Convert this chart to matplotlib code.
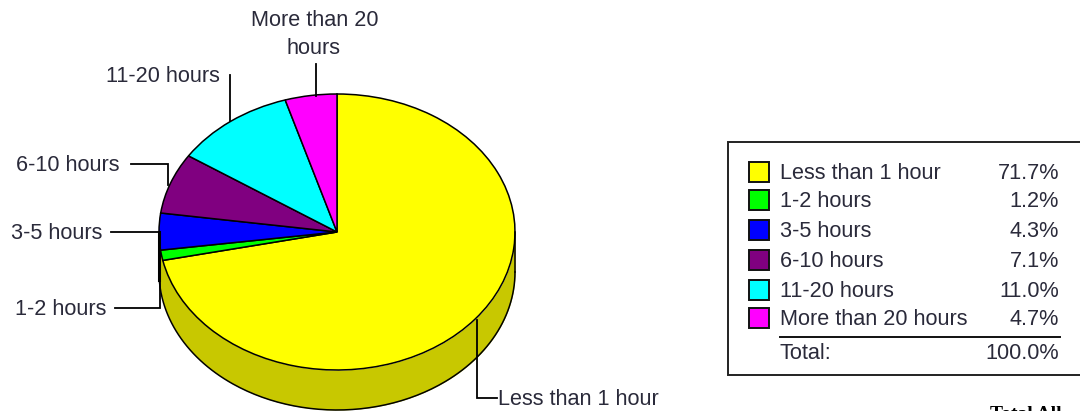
import numpy as np
import matplotlib
matplotlib.use("Agg")
import matplotlib.pyplot as plt
from matplotlib.patches import Rectangle

categories = ["Less than 1 hour", "1-2 hours", "3-5 hours", "6-10 hours", "11-20 hours", "More than 20 hours"]
percents = [71.7, 1.2, 4.3, 7.1, 11.0, 4.7]
percent_labels = ["71.7%", "1.2%", "4.3%", "7.1%", "11.0%", "4.7%"]
colors = ["#FFFF00", "#00FF00", "#0000FF", "#800080", "#00FFFF", "#FF00FF"]
total_label = "100.0%"

W, H = 1080, 411
CX, CY, RX, RY, DEPTH = 337, 232, 178, 138, 40

plt.rcParams["font.family"] = ["Liberation Sans", "DejaVu Sans"]
FS = 15.6
TEXT = "#2a2a3a"

fig = plt.figure(figsize=(W / 100, H / 100), dpi=100)

# overlay in pixel coordinates for leaders, labels and the legend box
ax = fig.add_axes([0, 0, 1, 1], zorder=2)
ax.set_xlim(0, W)
ax.set_ylim(H, 0)
ax.axis("off")
ax.patch.set_alpha(0)

# pie drawn in an axes stretched to the ellipse
ax_pie = fig.add_axes([(CX - RX) / W, 1 - (CY + RY) / H, 2 * RX / W, 2 * RY / H], zorder=1)

# side wall under the front half
t = np.linspace(np.pi, 2 * np.pi, 200)
depth = DEPTH / RY
ax_pie.fill_between(np.cos(t), np.sin(t), np.sin(t) - depth, color="#C8C800", lw=0, clip_on=False)
ax_pie.plot(np.cos(t), np.sin(t) - depth, color="black", lw=1.1, clip_on=False)
ax_pie.plot([1, 1], [0, -depth], color="black", lw=1.1, clip_on=False)
ax_pie.plot([-1, -1], [0, -0.35], color="black", lw=2.2, clip_on=False)

ax_pie.pie(percents, colors=colors, startangle=90, counterclock=False, radius=1,
           wedgeprops={"edgecolor": "black", "linewidth": 1.1})
ax_pie.set_aspect("auto")
ax_pie.set_xlim(-1, 1)
ax_pie.set_ylim(-1, 1)
for p in ax_pie.patches:
    p.set_clip_on(False)

# leaders
leaders = [
    [(477, 320), (477, 398), (497, 398)],
    [(115, 308), (160, 308), (160, 240)],
    [(111, 232), (158, 232)],
    [(131, 164), (168, 164), (168, 185)],
    [(230, 75), (230, 121)],
    [(316, 64), (316, 96)],
]
for pts in leaders:
    xs, ys = zip(*pts)
    ax.plot(xs, ys, color="black", lw=1.3, solid_joinstyle="miter")

ax.text(498, 399, categories[0], fontsize=FS, color=TEXT, ha="left", va="center")
ax.text(106, 309, categories[1], fontsize=FS, color=TEXT, ha="right", va="center")
ax.text(102, 233, categories[2], fontsize=FS, color=TEXT, ha="right", va="center")
ax.text(120, 165, categories[3], fontsize=FS, color=TEXT, ha="right", va="center")
ax.text(220, 77, categories[4], fontsize=FS, color=TEXT, ha="right", va="center")
ax.text(315, 21, "More than 20", fontsize=FS, color=TEXT, ha="center", va="center")
ax.text(314, 49, "hours", fontsize=FS, color=TEXT, ha="center", va="center")

# legend box
ax.add_patch(Rectangle((728, 142), 360, 233, fc="white", ec="#222222", lw=1.4, clip_on=True))
row_y = [172, 200, 230, 260, 290, 318]
for y, cat, c, lab in zip(row_y, categories, colors, percent_labels):
    ax.add_patch(Rectangle((749, y - 10), 20, 20, fc=c, ec="#111111", lw=1.4))
    ax.text(780, y + 1, cat, fontsize=FS, color=TEXT, ha="left", va="center")
    ax.text(1059, y + 1, lab, fontsize=FS, color=TEXT, ha="right", va="center")
ax.plot([780, 1060], [337, 337], color="#111111", lw=1.4)
ax.text(780, 353, "Total:", fontsize=FS, color=TEXT, ha="left", va="center")
ax.text(1059, 353, total_label, fontsize=FS, color=TEXT, ha="right", va="center")

# cut-off caption along the lower edge, as in the source image
ax.text(990, 406, "Total All", fontsize=14, fontweight="bold", family="Liberation Serif",
        color="black", ha="left", va="top")

fig.savefig("out.png", dpi=100)
